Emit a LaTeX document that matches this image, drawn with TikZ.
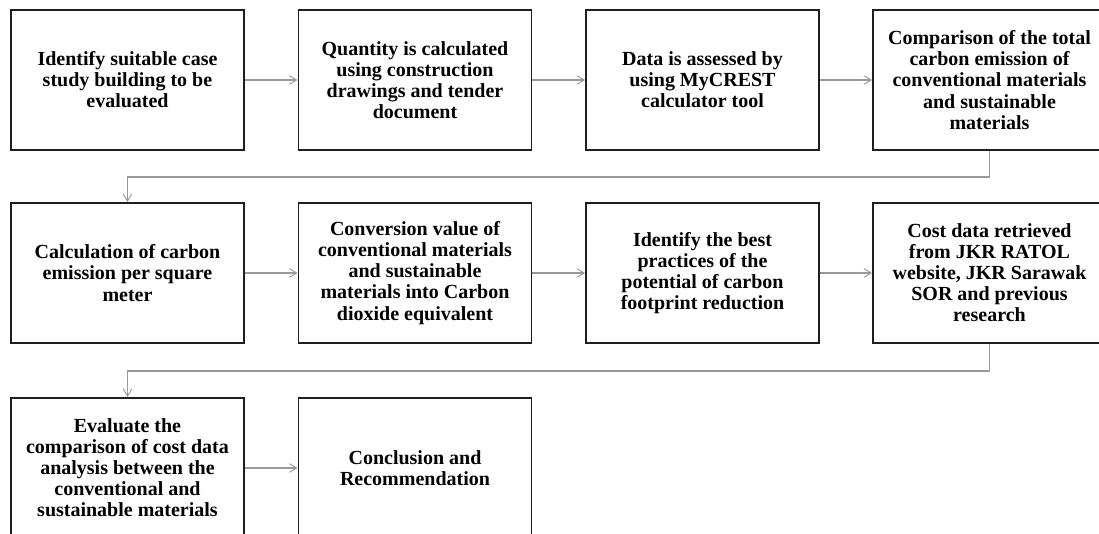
\documentclass[tikz,border=0pt]{standalone}
\usepackage{fontspec}
\setmainfont{Liberation Serif}
\usetikzlibrary{arrows.meta}
\begin{document}
\begin{tikzpicture}[x=0.75pt,y=-0.75pt,
  stepbox/.style={draw=black!88,line width=1.4pt,rectangle,minimum width=233*0.75pt,minimum height=140*0.75pt,
    inner sep=0pt,align=center,font=\bfseries\fontsize{15pt}{15.8pt}\selectfont},
  conn/.style={draw=black!40,line width=0.8pt,-{Straight Barb[length=5.5pt,width=6.5pt,line width=0.7pt]}}]
\useasboundingbox (0,0) rectangle (1099,534);
\clip (0,0) rectangle (1099,534);
\node[stepbox] (b1) at (127.5,80) {Identify suitable case\\study building to be\\evaluated};
\node[stepbox] (b2) at (415,80) {Quantity is calculated\\using construction\\drawings and tender\\document};
\node[stepbox] (b3) at (702.5,80) {Data is assessed by\\using MyCREST\\calculator tool};
\node[stepbox] (b4) at (989.5,80) {Comparison of the total\\carbon emission of\\conventional materials\\and sustainable\\materials};
\node[stepbox] (b5) at (127.5,273) {Calculation of carbon\\emission per square\\meter};
\node[stepbox] (b6) at (415,273) {Conversion value of\\conventional materials\\and sustainable\\materials into Carbon\\dioxide equivalent};
\node[stepbox] (b7) at (702.5,273) {Identify the best\\practices of the\\potential of carbon\\footprint reduction};
\node[stepbox] (b8) at (989.5,273) {Cost data retrieved\\from JKR RATOL\\website, JKR Sarawak\\SOR and previous\\research};
\node[stepbox] (b9) at (127.5,468) {Evaluate the\\comparison of cost data\\analysis between the\\conventional and\\sustainable materials};
\node[stepbox] (b10) at (415,468) {Conclusion and\\Recommendation};
\coordinate (k1) at (989.5,177);
\coordinate (k2) at (127.5,177);
\coordinate (k3) at (989.5,371);
\coordinate (k4) at (127.5,371);
\draw[conn] (b1) -- (b2);
\draw[conn] (b2) -- (b3);
\draw[conn] (b3) -- (b4);
\draw[conn] (b4.south) -- (k1) -- (k2) -- (b5.north);
\draw[conn] (b5) -- (b6);
\draw[conn] (b6) -- (b7);
\draw[conn] (b7) -- (b8);
\draw[conn] (b8.south) -- (k3) -- (k4) -- (b9.north);
\draw[conn] (b9) -- (b10);
\end{tikzpicture}
\end{document}
